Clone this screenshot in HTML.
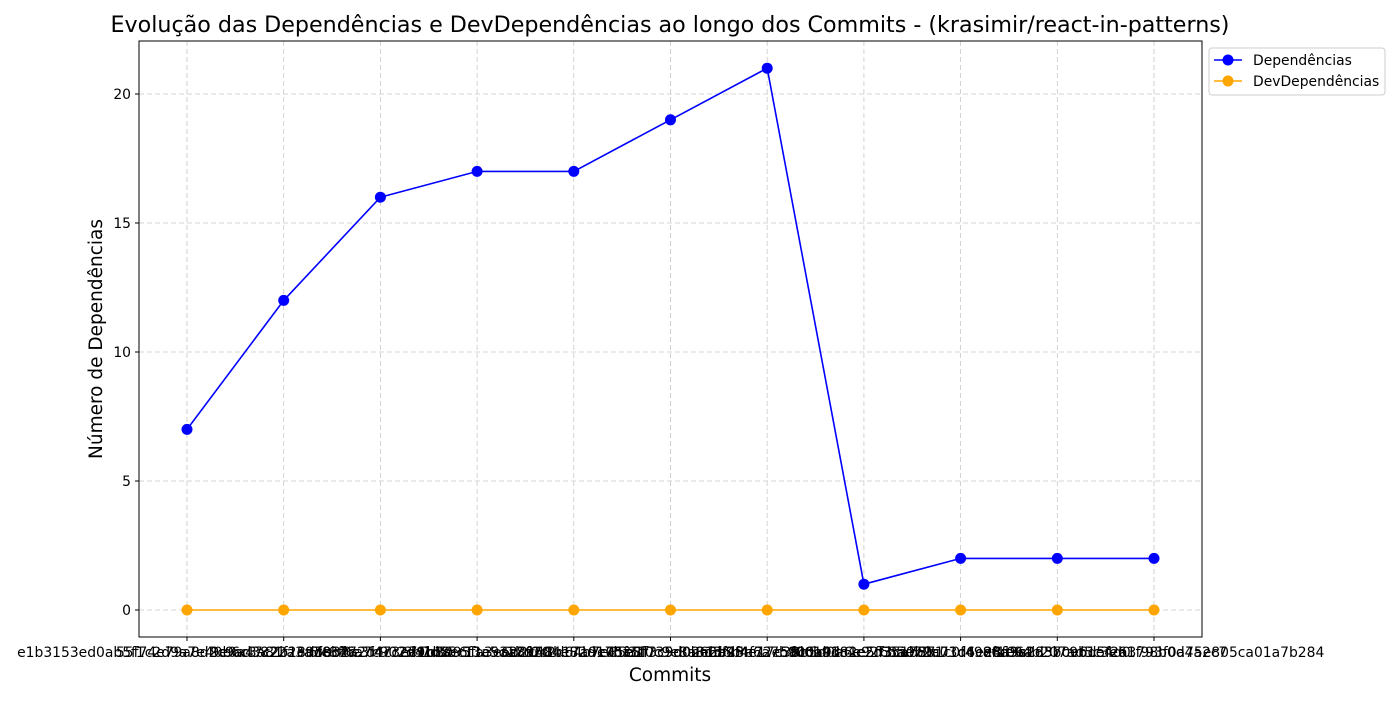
<!DOCTYPE html>
<html><head><meta charset="utf-8"><style>
body{margin:0;background:#fff;}
svg text{font-family:"DejaVu Sans","Liberation Sans",sans-serif;}
</style></head><body>
<svg id="chart" width="1400" height="700" xmlns="http://www.w3.org/2000/svg"></svg>
<script>
const commits=["e1b3153ed0ab5f1c2d9a7e40b6c3a81f2e9d0c47","55f74e79a8d2c9ad3822a3a7c8f0e3f47c2e9b1a","9e0a47c2b18d5e3f6a7c902d41b8e6f3a5c17d20","6f8b2a2d4c3e71b8095fa3e6d2c48b17a9e05f31","3b7d55c11e93a8f0c2d64b7e85a1f3c9d02e6b48","a2c9604e82d17b35f0c9e8a31d6b4f72e58c0a93","c41e8f735d0b62a9f4e17c38b5d0a6e92f3c1b57","8d3f25e6a7b90c14d82e5f63a0b9c71d4e28f06a","f06b91c4e2d35a78b1c0f49e6d3a2857c9b1e4d0","b5e72a03d6c8f1e94b207ad5c3e61f98b0d4a2c7","e4a9c1d3b0e6d5f2a3793f0a75e805ca01a7b284"];
const deps=[7,12,16,17,17,19,21,1,2,2,2];
const devDeps=[0,0,0,0,0,0,0,0,0,0,0];
const yTicks=[0,5,10,15,20];
const svg=document.getElementById('chart');
const NS="http://www.w3.org/2000/svg";
const L=139,R=1202,T=41,B=637;
const x0=187,dx=(1154-187)/(commits.length-1);
const X=i=>x0+i*dx;
const Y=v=>610-v*25.8;
function mk(tag,attrs,txt){const e=document.createElementNS(NS,tag);for(const k in attrs)e.setAttribute(k,attrs[k]);if(txt!==undefined)e.textContent=txt;svg.appendChild(e);return e;}
yTicks.forEach(v=>{const g=mk('line',{x1:L,x2:R,y1:Y(v),y2:Y(v),stroke:'#c8c8c8','stroke-dasharray':'5,3','stroke-width':0.8});


const tk=mk('line',{x1:L-4,x2:L,y1:Y(v),y2:Y(v),stroke:'#000'});


const t=mk('text',{x:L-8,y:Y(v)+5,'text-anchor':'end','font-size':13.9},v);

});
commits.forEach((c,i)=>{const g=mk('line',{x1:X(i),x2:X(i),y1:T,y2:B,stroke:'#c8c8c8','stroke-dasharray':'5,3','stroke-width':0.8});


const tk=mk('line',{x1:X(i),x2:X(i),y1:B,y2:B+4,stroke:'#000'});


const t=mk('text',{x:X(i),y:657,'text-anchor':'middle','font-size':13.9},c);

});
const fr=mk('rect',{x:L,y:T,width:R-L,height:B-T,fill:'none',stroke:'#000','stroke-width':1});


function series(vals,color,name){
const p=mk('polyline',{points:vals.map((v,i)=>X(i)+','+Y(v)).join(' '),fill:'none',stroke:color,'stroke-width':1.6});


vals.forEach((v,i)=>{const c=mk('circle',{cx:X(i),cy:Y(v),r:5.5,fill:color});

});}
series(devDeps,'#ffa500','devdependencias');
series(deps,'#0000ff','dependencias');
const ti=mk('text',{x:670,y:32,'text-anchor':'middle','font-size':22.2},'Evolução das Dependências e DevDependências ao longo dos Commits - (krasimir/react-in-patterns)');


const xl=mk('text',{x:670,y:681,'text-anchor':'middle','font-size':18.5},'Commits');


const yl=mk('text',{x:0,y:0,'text-anchor':'middle','font-size':18.5,transform:'translate(102,339) rotate(-90)'},'Número de Dependências');


const lg=mk('rect',{x:1209,y:48,width:176,height:47,rx:3,fill:'#fff',stroke:'#ccc'});


[['Dependências','#0000ff',60],['DevDependências','#ffa500',81]].forEach(([n,c,y])=>{
const l=mk('line',{x1:1214,x2:1242,y1:y,y2:y,stroke:c,'stroke-width':1.6});


const d=mk('circle',{cx:1228,cy:y,r:5.5,fill:c});


const t=mk('text',{x:1253,y:y+5,'font-size':13.9},n);

});
</script>
</body></html>
